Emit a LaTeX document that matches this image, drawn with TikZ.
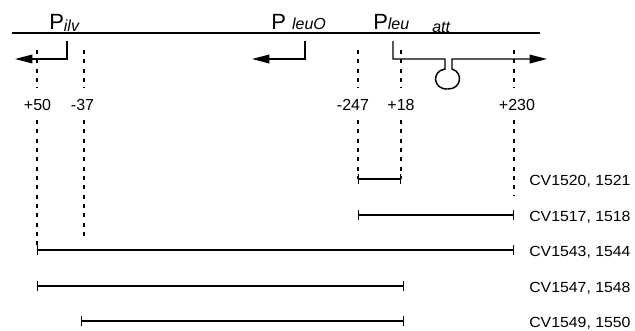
\documentclass[tikz,border=0pt]{standalone}
\usepackage{fontspec}
\setmainfont{Liberation Sans}
\newfontfamily\clonefont{Liberation Sans}[FakeStretch=1.08]
\usetikzlibrary{arrows.meta, positioning}
\newcommand\subtxt[1]{{\fontsize{12}{14}\selectfont\itshape #1}}

\begin{document}
\begin{tikzpicture}[x=0.75pt, y=-0.75pt,
  gene/.style={line width=1.1pt},
  prom/.style={line width=1.1pt, -{Triangle[length=13pt, width=6.5pt]}},
  guide/.style={line width=1.1pt, dash pattern=on 3pt off 4pt},
  span/.style={line width=1.1pt, {Bar[width=7pt]}-{Bar[width=7pt]}},
  poslabel/.style={font=\fontsize{12}{14}\selectfont, inner sep=0pt},
  clone/.style={font=\clonefont\fontsize{11}{13}\selectfont, anchor=west, inner sep=0pt},
  pname/.style={font=\fontsize{16.5}{19}\selectfont, anchor=base west, inner sep=0pt}
]
\useasboundingbox (0,0) rectangle (635,330);

% chromosome and promoters
\coordinate (l) at (12,33); \coordinate (r) at (540,33);
\draw[gene] (l) -- (r);
\node (pilv) [pname] at (49,29) {P\lower2.2pt\hbox{\subtxt{ilv}}};
\node (pleuo) [pname] at (271,29) {P \subtxt{leuO}};
\node (pleu) [pname] at (373,29) {P\subtxt{leu}};
\node (att) [pname] at (432,32) {\subtxt{att}};

\coordinate (ilv0) at (67,41); \coordinate (ilv1) at (15,59);
\coordinate (leuo0) at (305,41); \coordinate (leuo1) at (252,59);
\coordinate (leu0) at (393,41); \coordinate (leu1) at (547,59);
\draw[prom] (ilv0) |- (ilv1);
\draw[prom] (leuo0) |- (leuo1);
\draw[prom] (leu0) |- (445,59) -- (445,69)
  .. controls (431,71) and (433,90) .. (448,89)
  .. controls (462,89) and (463,72) .. (452,69) -- (452,59) -- (leu1);

% end points
\foreach \x/\lab/\nm/\lx/\bot in {37/+50/a/37.5/250, 84/-37/b/82.5/238,
    358/-247/c/353/179, 401/+18/d/401/179, 514/+230/e/517/195} {
  \node (\nm) [poslabel] at (\lx,105) {\lab};
  \draw[guide] (\x,50) -- (\x,88);
  \draw[guide] (\x,120) -- (\x,\bot);
}

% deletion clones
\foreach \y/\a/\b/\nm/\txt in {179/358/401/c1/{CV1520, 1521}, 215/358/514/c2/{CV1517, 1518},
    250/37/514/c3/{CV1543, 1544}, 286/37/404/c4/{CV1547, 1548}, 321/81/404/c5/{CV1549, 1550}} {
  \draw[span] (\a,\y) -- (\b,\y);
  \node (\nm) [clone] at (529,\y+2) {\txt};
}
\end{tikzpicture}
\end{document}
